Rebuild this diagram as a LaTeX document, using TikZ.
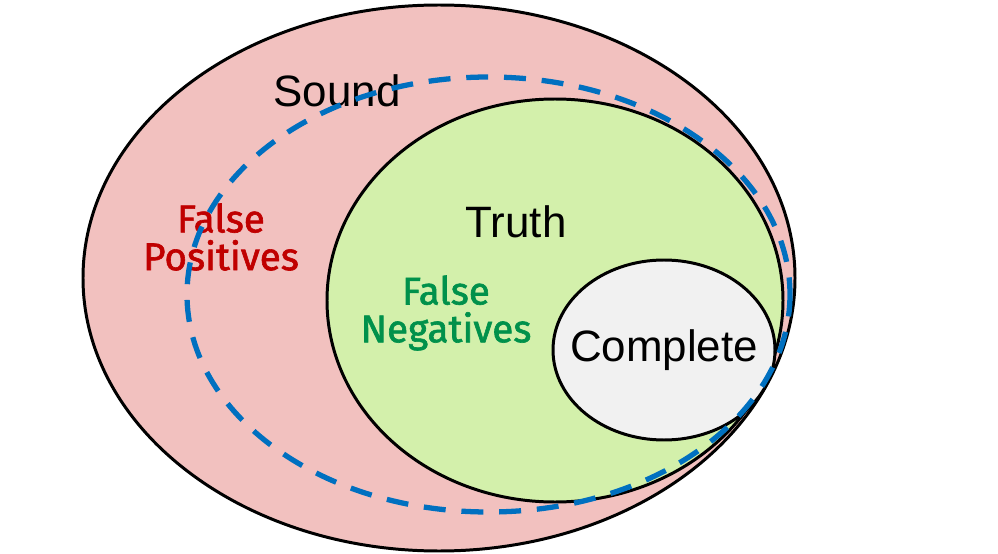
\documentclass[tikz,border=0pt]{standalone}
\usepackage{fontspec}
\setmainfont{Liberation Sans}
\newfontfamily\handfont[FakeBold=1.6]{Fira Sans}
\usepackage{xcolor}
\usetikzlibrary{calc}

\definecolor{soundpink}{HTML}{F2C1BF}
\definecolor{truthgreen}{HTML}{D3F0AB}
\definecolor{completegray}{HTML}{F1F1F1}
\definecolor{dashblue}{HTML}{0070C0}
\definecolor{fpred}{HTML}{C00000}
\definecolor{fngreen}{HTML}{00914B}

\tikzset{
  setline/.style={draw=black, line width=1.7pt},
  biglabel/.style={font=\fontsize{25}{30}\selectfont, inner sep=0pt},
  handlabel/.style={font=\handfont\fontsize{22}{21.5}\selectfont, align=center, inner sep=0pt}
}

\begin{document}
\begin{tikzpicture}[x=0.02cm, y=-0.02cm]

\useasboundingbox (0,0) rectangle (998,554);

\coordinate (Cs) at (439, 278);   % sound
\coordinate (Ct) at (555, 300.5); % truth
\coordinate (Cc) at (664, 350);   % complete
\coordinate (Cd) at (488.5, 294.5); % dashed

%-- sound set
\filldraw[setline, fill=soundpink] (Cs) ellipse [x radius=356, y radius=273];

%-- truth set
\filldraw[setline, fill=truthgreen] (Ct) ellipse [x radius=228, y radius=201.5];

%-- complete set
\filldraw[setline, fill=completegray] (Cc) ellipse [x radius=111, y radius=90];

%-- labels
\node[biglabel] (sound) at (337, 91) {Sound};
\node[biglabel] (truth) at (516, 222) {Truth};
\node[biglabel] (complete) at (664, 350) {Complete};
\node[handlabel, text=fpred] (fpos) at (221, 237) {False\\Positives};
\node[handlabel, text=fngreen] (fneg) at (446, 313) {False\\Negatives};

%-- dashed border on top
\draw[dashblue, line width=3pt, dash pattern=on 12.5pt off 9pt]
  (Cd) ellipse [x radius=301.5, y radius=217.5];

\end{tikzpicture}
\end{document}
